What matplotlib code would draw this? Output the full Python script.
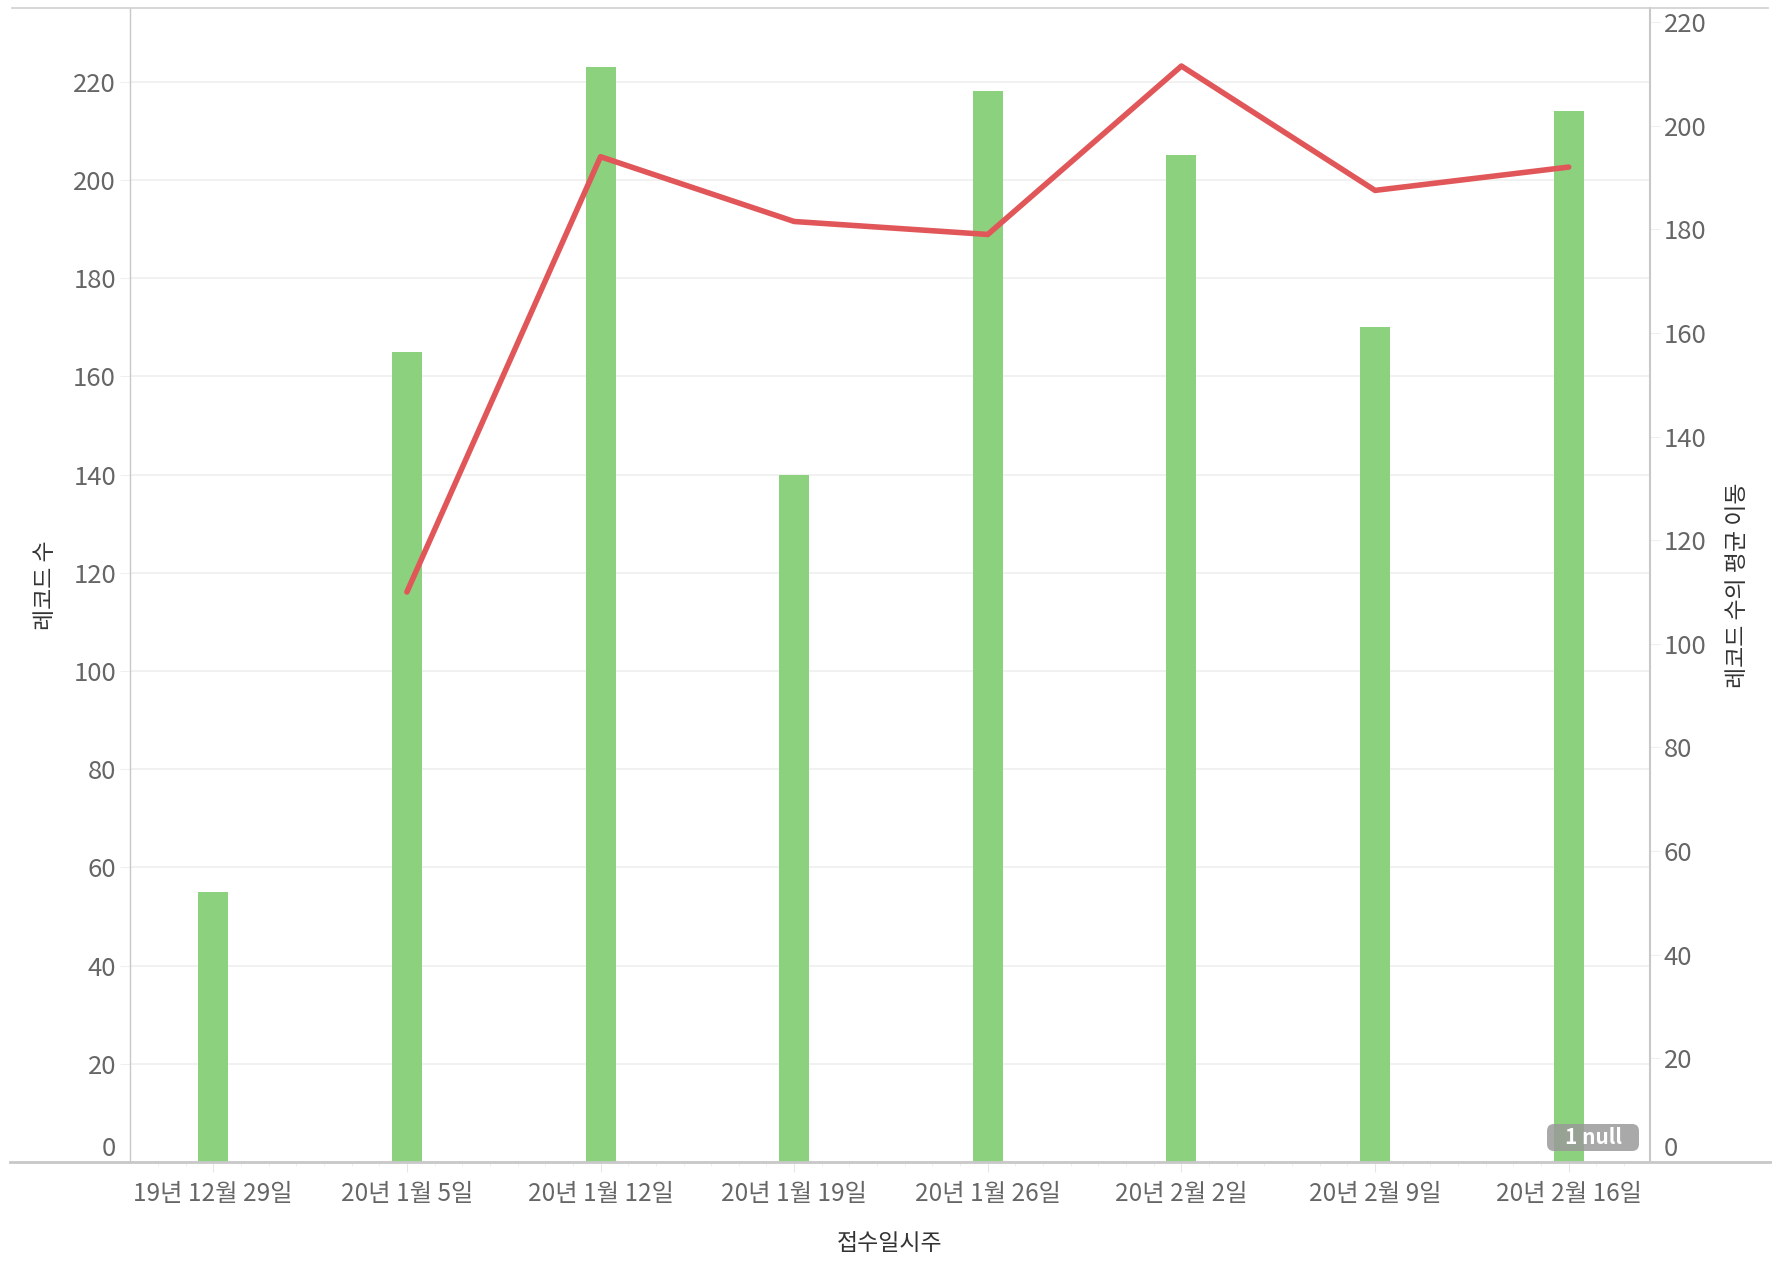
import numpy as np
import matplotlib
matplotlib.use("Agg")
import matplotlib.pyplot as plt
from matplotlib.lines import Line2D
from matplotlib.patches import FancyBboxPatch
from matplotlib.transforms import IdentityTransform

plt.rcParams['font.family'] = ['Noto Sans CJK KR', 'DejaVu Sans']

# data
weeks = ['19년 12월 29일', '20년 1월 5일', '20년 1월 12일', '20년 1월 19일',
         '20년 1월 26일', '20년 2월 2일', '20년 2월 9일', '20년 2월 16일']
records = [55, 165, 223, 140, 218, 205, 170, 214]
moving_avg = [np.nan, 110, 194, 181.5, 179, 211.5, 187.5, 192]
left_ticks = [0, 20, 40, 60, 80, 100, 120, 140, 160, 180, 200, 220]
right_ticks = [0, 20, 40, 60, 80, 100, 120, 140, 160, 180, 200, 220]

bar_col = '#8cd17d'
line_col = '#e15759'
tick_col = '#666666'
axis_col = '#c8c8c8'

fig = plt.figure(figsize=(17.76, 12.72), dpi=100)
ax = fig.add_axes([130/1776, 1 - 1162/1272, 1520/1776, 1154/1272])
x = np.arange(len(weeks))

ax.bar(x, records, width=0.155, color=bar_col, zorder=2)
ax.set_xlim(-0.43, 7.42)
ax.set_ylim(0, 235)
ax.set_yticks(left_ticks)
ax.set_yticklabels([str(t) for t in left_ticks])
ax.grid(axis='y', color='#efefef', lw=1.2, zorder=0)
ax.set_axisbelow(True)

ax.set_xticks(x)
ax.set_xticklabels(weeks)
ax.set_xticks(np.arange(-2, 52) / 7, minor=True)
ax.tick_params(axis='x', which='major', length=7, color='#e6e6e6', labelsize=17.5,
               labelcolor=tick_col, pad=7)
ax.tick_params(axis='x', which='minor', length=3, color='#ececec')
ax.tick_params(axis='y', length=7, color='#efefef', labelsize=18.5, labelcolor=tick_col, pad=3)
ax.yaxis.get_majorticklabels()[0].set_va('bottom')

for s in ['top', 'right', 'bottom']:
    ax.spines[s].set_visible(False)
ax.spines['left'].set_color(axis_col)
ax.spines['left'].set_linewidth(1)

ax.set_ylabel('레코드 수', fontsize=16.5, color='#333333', labelpad=12)
ax.set_xlabel('접수일시주', fontsize=16.5, color='#333333', labelpad=18)

ax2 = ax.twinx()
ax2.plot(x, moving_avg, color=line_col, lw=4, solid_capstyle='round', zorder=3)
ax2.set_ylim(0, 222.7)
ax2.set_yticks(right_ticks)
ax2.set_yticklabels([str(t) for t in right_ticks])
ax2.tick_params(axis='y', length=7, color='#efefef', labelsize=18.5, labelcolor=tick_col, pad=3)
ax2.yaxis.get_majorticklabels()[0].set_va('bottom')
for s in ['top', 'left', 'bottom']:
    ax2.spines[s].set_visible(False)
ax2.spines['right'].set_color(axis_col)
ax2.spines['right'].set_linewidth(1.5)
ax2.set_ylabel('레코드 수의 평균 이동', fontsize=16.5, color='#333333', rotation=90, labelpad=14)

# "1 null" badge (pixel coords, bottom-left origin)
fig.add_artist(FancyBboxPatch((1547, 121), 92, 27, boxstyle='round,pad=0,rounding_size=7',
                              transform=IdentityTransform(), fc='#9a9a9a', ec='none',
                              alpha=0.85, zorder=5))
fig.text(1593/1776, 134.5/1272, '1 null', ha='center', va='center', fontsize=15,
         fontweight='bold', color='white', zorder=6)

# outer borders (top and baseline run across the whole view)
fig.add_artist(Line2D([12/1776, 1768/1776], [1 - 8/1272, 1 - 8/1272], color='#d0d0d0', lw=1.2))
fig.add_artist(Line2D([10/1776, 1770/1776], [1 - 1162/1272, 1 - 1162/1272], color='#c8c8c8', lw=2))

fig.savefig('out.png', dpi=100)
